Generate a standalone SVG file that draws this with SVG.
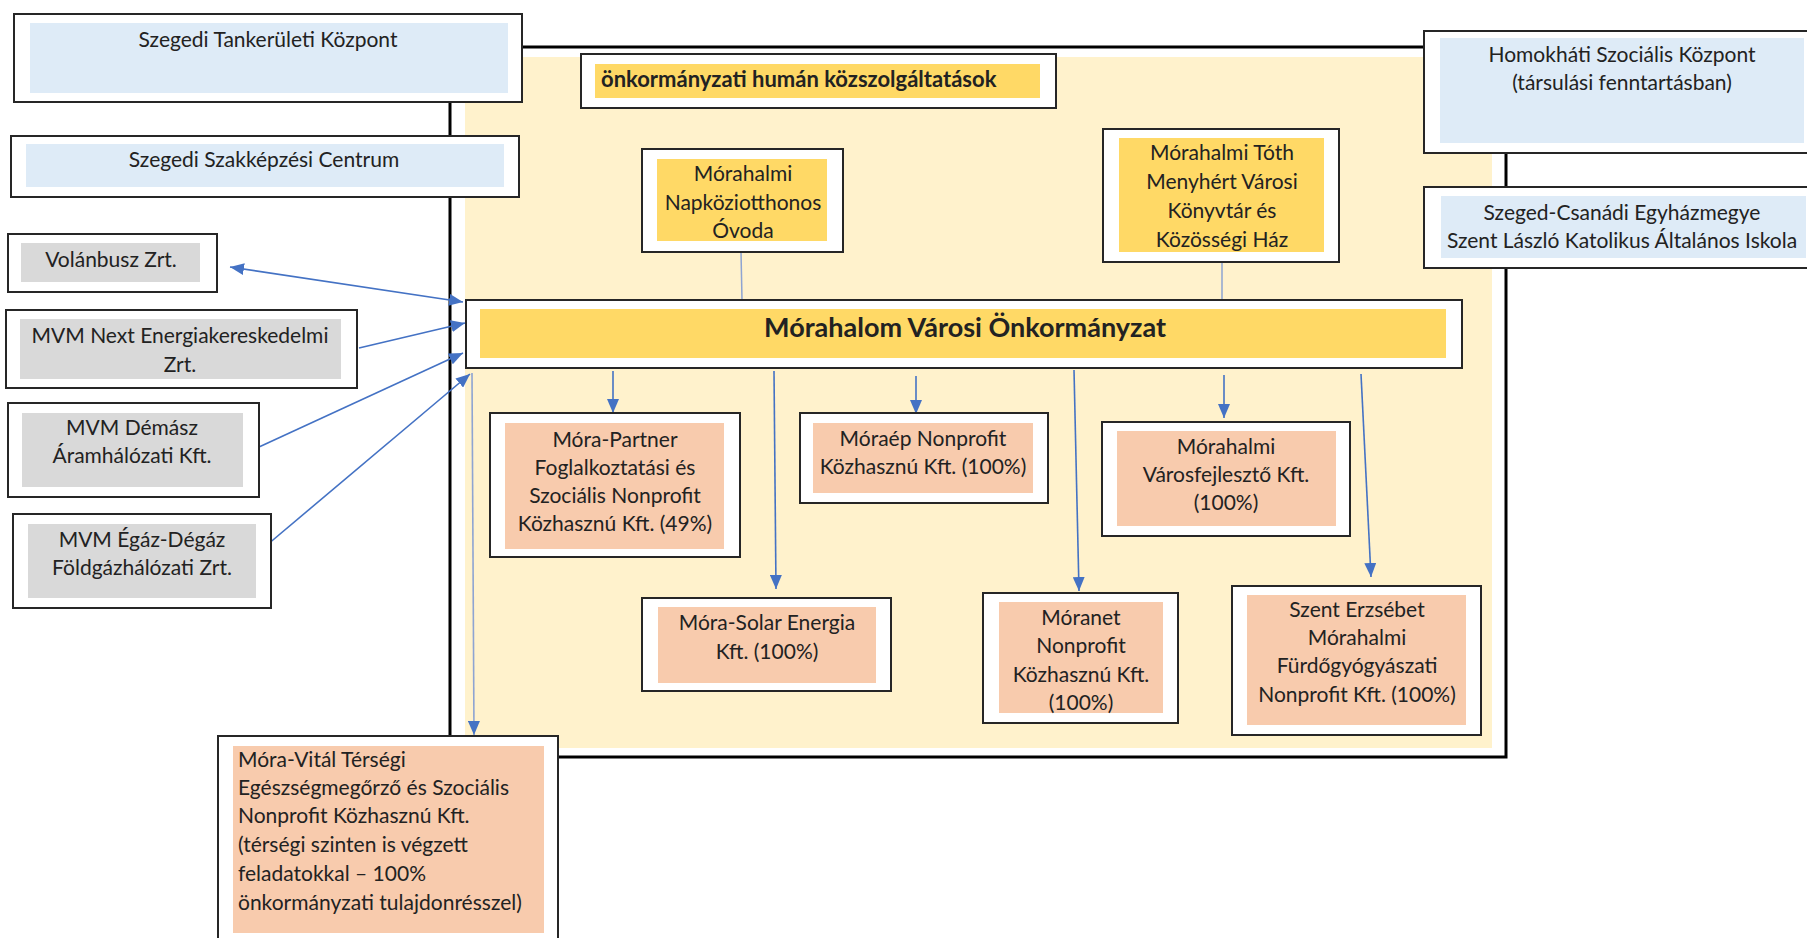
<svg xmlns="http://www.w3.org/2000/svg" width="1807" height="938" viewBox="0 0 1807 938">
<defs>
<style>
.ob{fill:#fff;stroke:#262626;stroke-width:2}
.blue{fill:#DEEBF7}.gray{fill:#D9D9D9}.gold{fill:#FFD966}.peach{fill:#F8CBAD}
.t{font-family:Lato,"Liberation Sans",sans-serif;font-size:21px;fill:#222;text-anchor:middle}
.tl{text-anchor:start}
.b{font-weight:bold}
.arr{stroke:#4472C4;stroke-width:1.6;fill:none;marker-end:url(#ah)}
.arr2{stroke:#4472C4;stroke-width:1.6;fill:none;marker-end:url(#ah);marker-start:url(#ahs)}
.thin{stroke:#8EA4D2;stroke-width:1.5;fill:none}
.vit{stroke:#8EA4D2;stroke-width:1.6;fill:none;marker-end:url(#ah)}
</style>
<marker id="ah" markerUnits="userSpaceOnUse" markerWidth="14" markerHeight="12" refX="14" refY="6" orient="auto"><path d="M0,0 L14,6 L0,12 z" fill="#4472C4"/></marker>
<marker id="ahs" markerUnits="userSpaceOnUse" markerWidth="14" markerHeight="12" refX="14" refY="6" orient="auto-start-reverse"><path d="M0,0 L14,6 L0,12 z" fill="#4472C4"/></marker>
</defs>
<rect width="1807" height="938" fill="#fff"/>
<g id="frame">
<rect x="450" y="47" width="1056" height="710" fill="#fff" stroke="#000" stroke-width="3"/>
<rect x="465" y="57" width="1027" height="691" fill="#FFF2CC"/>
</g>
<g id="connectors">
<line class="arr2" x1="230" y1="267" x2="463" y2="302"/>
<line class="arr" x1="359" y1="348" x2="465" y2="323"/>
<line class="arr" x1="259" y1="447" x2="463" y2="353"/>
<line class="arr" x1="267" y1="545" x2="470" y2="374"/>
<line class="vit" x1="472" y1="373" x2="474" y2="735"/>
<line class="thin" x1="741" y1="252" x2="742" y2="300"/>
<line class="thin" x1="1222" y1="262" x2="1222" y2="300"/>
<line class="arr" x1="613" y1="371" x2="613" y2="413"/>
<line class="arr" x1="774" y1="371" x2="776" y2="589"/>
<line class="arr" x1="916" y1="376" x2="916" y2="414"/>
<line class="arr" x1="1074" y1="370" x2="1079" y2="591"/>
<line class="arr" x1="1224" y1="375" x2="1224" y2="418"/>
<line class="arr" x1="1361" y1="374" x2="1371" y2="577"/>
</g>
<g id="tankeruleti">
<rect class="ob" x="14" y="14" width="508" height="88"/>
<rect class="blue" x="30" y="23" width="478" height="70"/>
<text class="t" x="268" y="47">Szegedi Tankerületi Központ</text>
</g>
<g id="szakkepzesi">
<rect class="ob" x="11" y="136" width="508" height="61"/>
<rect class="blue" x="26" y="144" width="478" height="43"/>
<text class="t" x="264" y="167">Szegedi Szakképzési Centrum</text>
</g>
<g id="volanbusz">
<rect class="ob" x="8" y="234" width="209" height="58"/>
<rect class="gray" x="21" y="243" width="179" height="39"/>
<text class="t" x="111" y="267">Volánbusz Zrt.</text>
</g>
<g id="mvmnext">
<rect class="ob" x="6" y="310" width="351" height="78"/>
<rect class="gray" x="20" y="319" width="321" height="60"/>
<text class="t" x="180" y="343">MVM Next Energiakereskedelmi</text>
<text class="t" x="180" y="372">Zrt.</text>
</g>
<g id="demasz">
<rect class="ob" x="8" y="403" width="251" height="94"/>
<rect class="gray" x="22" y="413" width="221" height="74"/>
<text class="t" x="132" y="435">MVM Démász</text>
<text class="t" x="132" y="463">Áramhálózati Kft.</text>
</g>
<g id="egaz">
<rect class="ob" x="13" y="514" width="258" height="94"/>
<rect class="gray" x="28" y="524" width="228" height="74"/>
<text class="t" x="142" y="547">MVM Égáz-Dégáz</text>
<text class="t" x="142" y="575">Földgázhálózati Zrt.</text>
</g>
<g id="human">
<rect class="ob" x="581" y="54" width="475" height="54"/>
<rect class="gold" x="595" y="64" width="445" height="34"/>
<text class="t tl b" x="601" y="87" style="font-size:22px">önkormányzati humán közszolgáltatások</text>
</g>
<g id="ovoda">
<rect class="ob" x="642" y="149" width="201" height="103"/>
<rect class="gold" x="657" y="159" width="170" height="82"/>
<text class="t" x="743" y="181">Mórahalmi</text>
<text class="t" x="743" y="210">Napköziotthonos</text>
<text class="t" x="743" y="238">Óvoda</text>
</g>
<g id="konyvtar">
<rect class="ob" x="1103" y="129" width="236" height="133"/>
<rect class="gold" x="1119" y="138" width="205" height="114"/>
<text class="t" x="1222" y="160">Mórahalmi Tóth</text>
<text class="t" x="1222" y="189">Menyhért Városi</text>
<text class="t" x="1222" y="218">Könyvtár és</text>
<text class="t" x="1222" y="247">Közösségi Ház</text>
</g>
<g id="homokhati">
<rect class="ob" x="1424" y="31" width="400" height="122"/>
<rect class="blue" x="1440" y="38" width="364" height="105"/>
<text class="t" x="1622" y="62">Homokháti Szociális Központ</text>
<text class="t" x="1622" y="90">(társulási fenntartásban)</text>
</g>
<g id="katolikus">
<rect class="ob" x="1424" y="187" width="400" height="81"/>
<rect class="blue" x="1441" y="196" width="365" height="62"/>
<text class="t" x="1622" y="220">Szeged-Csanádi Egyházmegye</text>
<text class="t" x="1622" y="248">Szent László Katolikus Általános Iskola</text>
</g>
<g id="onkormanyzat">
<rect class="ob" x="466" y="300" width="996" height="68"/>
<rect class="gold" x="480" y="309" width="966" height="49"/>
<text class="t b" x="965" y="337" style="font-size:27px">Mórahalom Városi Önkormányzat</text>
</g>
<g id="morapartner">
<rect class="ob" x="490" y="413" width="250" height="144"/>
<rect class="peach" x="505" y="423" width="219" height="126"/>
<text class="t" x="615" y="447">Móra-Partner</text>
<text class="t" x="615" y="475">Foglalkoztatási és</text>
<text class="t" x="615" y="503">Szociális Nonprofit</text>
<text class="t" x="615" y="531">Közhasznú Kft. (49%)</text>
</g>
<g id="moraep">
<rect class="ob" x="800" y="413" width="248" height="90"/>
<rect class="peach" x="813" y="423" width="220" height="70"/>
<text class="t" x="923" y="446">Móraép Nonprofit</text>
<text class="t" x="923" y="474">Közhasznú Kft. (100%)</text>
</g>
<g id="varosfejleszto">
<rect class="ob" x="1102" y="422" width="248" height="114"/>
<rect class="peach" x="1117" y="431" width="219" height="95"/>
<text class="t" x="1226" y="454">Mórahalmi</text>
<text class="t" x="1226" y="482">Városfejlesztő Kft.</text>
<text class="t" x="1226" y="510">(100%)</text>
</g>
<g id="morasolar">
<rect class="ob" x="642" y="598" width="249" height="93"/>
<rect class="peach" x="658" y="607" width="218" height="76"/>
<text class="t" x="767" y="630">Móra-Solar Energia</text>
<text class="t" x="767" y="659">Kft. (100%)</text>
</g>
<g id="moranet">
<rect class="ob" x="983" y="593" width="195" height="130"/>
<rect class="peach" x="999" y="602" width="164" height="111"/>
<text class="t" x="1081" y="625">Móranet</text>
<text class="t" x="1081" y="653">Nonprofit</text>
<text class="t" x="1081" y="682">Közhasznú Kft.</text>
<text class="t" x="1081" y="710">(100%)</text>
</g>
<g id="furdo">
<rect class="ob" x="1232" y="586" width="249" height="149"/>
<rect class="peach" x="1247" y="595" width="219" height="130"/>
<text class="t" x="1357" y="617">Szent Erzsébet</text>
<text class="t" x="1357" y="645">Mórahalmi</text>
<text class="t" x="1357" y="673">Fürdőgyógyászati</text>
<text class="t" x="1357" y="702">Nonprofit Kft. (100%)</text>
</g>
<g id="moravital">
<rect class="ob" x="218" y="736" width="340" height="215"/>
<rect class="peach" x="233" y="746" width="311" height="187"/>
<text class="t tl" x="238" y="767">Móra-Vitál Térségi</text>
<text class="t tl" x="238" y="795">Egészségmegőrző és Szociális</text>
<text class="t tl" x="238" y="823">Nonprofit Közhasznú Kft.</text>
<text class="t tl" x="238" y="852">(térségi szinten is végzett</text>
<text class="t tl" x="238" y="881">feladatokkal – 100%</text>
<text class="t tl" x="238" y="910">önkormányzati tulajdonrésszel)</text>
</g>
</svg>
